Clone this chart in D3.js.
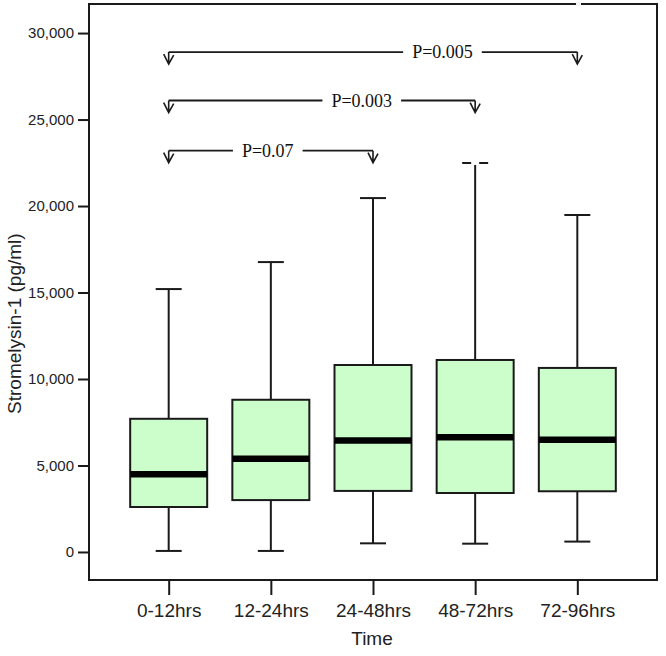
<!DOCTYPE html>
<html>
<head>
<meta charset="utf-8">
<script src="https://cdn.jsdelivr.net/npm/d3@7"></script>
<style>
  html, body { margin: 0; padding: 0; background: #fff; }
  svg { display: block; }
</style>
</head>
<body>
<script>
// ---- data ----
const categories = ["0-12hrs", "12-24hrs", "24-48hrs", "48-72hrs", "72-96hrs"];
const whiskerLow = [60, 60, 500, 480, 600];
const q1 = [2600, 3000, 3530, 3410, 3510];
const median = [4490, 5390, 6450, 6630, 6490];
const q3 = [7700, 8800, 10810, 11100, 10640];
const whiskerHigh = [15200, 16760, 20460, 22490, 19480];
const dashedCap = [false, false, false, true, false];
const yTicks = [0, 5000, 10000, 15000, 20000, 25000, 30000];
const pFrom = ["0-12hrs", "0-12hrs", "0-12hrs"];
const pTo = ["24-48hrs", "48-72hrs", "72-96hrs"];
const pLevel = [23200, 26100, 28900];
const pText = ["P=0.07", "P=0.003", "P=0.005"];
const pTextPos = [0.485, 0.63, 0.67];

// ---- layout ----
const W = 666, H = 656;
const frame = { left: 89, right: 657, top: 4, bottom: 580 };

const svg = d3.select("body").append("svg").attr("width", W).attr("height", H);

const x = d3.scalePoint().domain(categories).range([frame.left, frame.right]).padding(0.78);
const y = d3.scaleLinear().domain([-1620, 31680]).range([frame.bottom, frame.top]);

const boxW = 77, capW = 26;
const ink = "#1a1a1a";

// frame
svg.append("rect")
  .attr("x", frame.left).attr("y", frame.top)
  .attr("width", frame.right - frame.left).attr("height", frame.bottom - frame.top)
  .attr("fill", "none").attr("stroke", ink).attr("stroke-width", 2);

// y axis
const yAxis = d3.axisLeft(y).tickValues(yTicks).tickSize(11).tickPadding(4)
  .tickFormat(d3.format(","));
const gy = svg.append("g").attr("transform", `translate(${frame.left},0)`).call(yAxis);
gy.select(".domain").remove();
gy.selectAll(".tick line").attr("stroke", ink).attr("stroke-width", 2);
gy.selectAll(".tick text").attr("fill", "#222").style("font-family", "'Liberation Sans', Arial, sans-serif").style("font-size", "15px");

// x axis
const xAxis = d3.axisBottom(x).tickSize(15).tickPadding(9);
const gx = svg.append("g").attr("transform", `translate(0,${frame.bottom})`).call(xAxis);
gx.select(".domain").remove();
gx.selectAll(".tick line").attr("stroke", ink).attr("stroke-width", 2);
gx.selectAll(".tick text").attr("fill", "#222").style("font-family", "'Liberation Sans', Arial, sans-serif").style("font-size", "19px");

// axis titles
svg.append("text")
  .attr("x", 372).attr("y", 645)
  .attr("text-anchor", "middle")
  .style("font-family", "'Liberation Sans', Arial, sans-serif").style("font-size", "19px")
  .attr("fill", "#222").text("Time");
svg.append("text")
  .attr("transform", `translate(21,${y(13200)}) rotate(-90)`)
  .attr("text-anchor", "middle")
  .style("font-family", "'Liberation Sans', Arial, sans-serif").style("font-size", "19px")
  .attr("fill", "#222").text("Stromelysin-1 (pg/ml)");

// boxes
const boxes = categories.map((c, i) => ({ c, lo: whiskerLow[i], q1: q1[i], med: median[i], q3: q3[i], hi: whiskerHigh[i], dash: dashedCap[i] }));
const g = svg.append("g").selectAll("g").data(boxes).join("g");

// whiskers
g.append("line")
  .attr("x1", d => x(d.c)).attr("x2", d => x(d.c))
  .attr("y1", d => y(d.lo)).attr("y2", d => y(d.q1))
  .attr("stroke", ink).attr("stroke-width", 2);
g.append("line")
  .attr("x1", d => x(d.c)).attr("x2", d => x(d.c))
  .attr("y1", d => y(d.hi) + (d.dash ? 2 : 0)).attr("y2", d => y(d.q3))
  .attr("stroke", ink).attr("stroke-width", 2);
// caps
g.append("line")
  .attr("x1", d => x(d.c) - capW / 2).attr("x2", d => x(d.c) + capW / 2)
  .attr("y1", d => y(d.lo)).attr("y2", d => y(d.lo))
  .attr("stroke", ink).attr("stroke-width", 2);
g.append("line")
  .attr("x1", d => x(d.c) - capW / 2).attr("x2", d => x(d.c) + capW / 2)
  .attr("y1", d => y(d.hi)).attr("y2", d => y(d.hi))
  .attr("stroke", ink).attr("stroke-width", 2)
  .attr("stroke-dasharray", d => d.dash ? "9,8,9" : null);
// box
g.append("rect")
  .attr("x", d => x(d.c) - boxW / 2).attr("width", boxW)
  .attr("y", d => y(d.q3)).attr("height", d => y(d.q1) - y(d.q3))
  .attr("fill", "#ccfecc").attr("stroke", ink).attr("stroke-width", 2);
// median
g.append("line")
  .attr("x1", d => x(d.c) - boxW / 2).attr("x2", d => x(d.c) + boxW / 2)
  .attr("y1", d => y(d.med)).attr("y2", d => y(d.med))
  .attr("stroke", "#000").attr("stroke-width", 6.5);

// significance brackets
const brackets = pText.map((t, i) => ({ a: x(pFrom[i]), b: x(pTo[i]), yy: y(pLevel[i]), t, pos: pTextPos[i] }));
const bg = svg.append("g").selectAll("g").data(brackets).join("g");
const serif = "'Liberation Serif', 'Times New Roman', serif";
bg.each(function (d) {
  const sel = d3.select(this);
  const tx = d.a + (d.b - d.a) * d.pos;
  const txt = sel.append("text")
    .attr("x", tx).attr("y", d.yy + 6)
    .attr("text-anchor", "middle")
    .style("font-family", serif).style("font-size", "18px")
    .attr("fill", "#111").text(d.t);
  const bw = txt.node().getComputedTextLength();
  const gap = 9;
  sel.append("line").attr("x1", d.a).attr("x2", tx - bw / 2 - gap)
    .attr("y1", d.yy).attr("y2", d.yy).attr("stroke", ink).attr("stroke-width", 1.8);
  sel.append("line").attr("x1", tx + bw / 2 + gap).attr("x2", d.b)
    .attr("y1", d.yy).attr("y2", d.yy).attr("stroke", ink).attr("stroke-width", 1.8);
  [d.a, d.b].forEach(px => {
    sel.append("path")
      .attr("d", `M${px},${d.yy} L${px},${d.yy + 12} M${px - 5},${d.yy + 2} L${px},${d.yy + 12} L${px + 5},${d.yy + 3}`)
      .attr("fill", "none").attr("stroke", ink).attr("stroke-width", 1.6);
  });
});

// small notch in top frame line (as in reference)
svg.append("rect").attr("x", 576).attr("y", 2).attr("width", 5).attr("height", 4).attr("fill", "#f4f4f4");
</script>
</body>
</html>
